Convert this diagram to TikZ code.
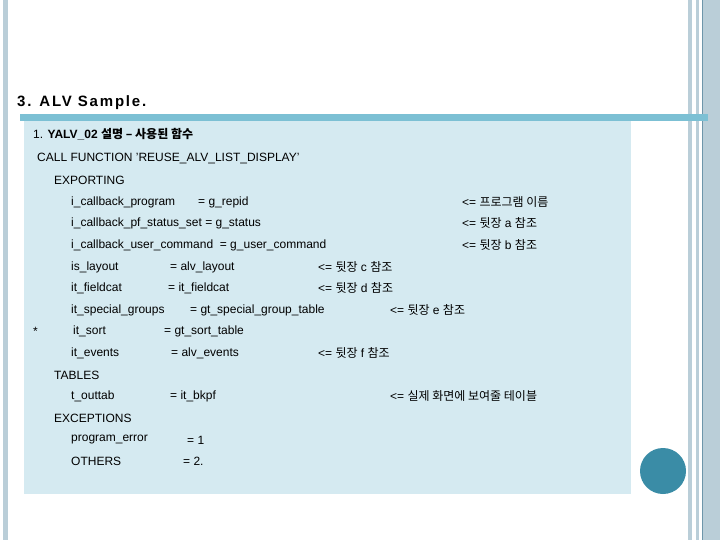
\documentclass[tikz,border=0pt]{standalone}
\usepackage{fontspec}
\setmainfont{Liberation Sans}
\newfontfamily\kr{Noto Sans CJK KR}
\definecolor{panel}{RGB}{213,234,241}
\definecolor{hbar}{RGB}{124,192,212}
\definecolor{circ}{RGB}{58,140,166}
\definecolor{side}{RGB}{186,206,216}
\definecolor{sidedark}{RGB}{110,150,170}
\begin{document}
\begin{tikzpicture}[x=1pt,y=-1pt,
  t/.style={anchor=west,inner sep=0pt,font=\fontsize{12}{14}\selectfont}]
\useasboundingbox[fill=white] (0,0) rectangle (720,540);
\fill[side] (3,0) rectangle (8,540);
\fill[side] (688,0) rectangle (692,540);
\fill[side] (696,0) rectangle (699,540);
\fill[side] (703,0) rectangle (720,540);
\draw[sidedark,line width=0.8pt] (702,0) -- (702,540);
\fill[hbar] (20,114) rectangle (708,121);
\fill[panel] (24,121) rectangle (631,494);
\fill[circ] (663,471) circle (23);
\node[t,font=\fontsize{15}{17}\selectfont\bfseries\addfontfeature{LetterSpace=12}] (title) at (17,103) {3. ALV Sample.};
\node[t] (h) at (33,134) {1. \textbf{YALV\_02 {\kr 설명 – 사용된 함수}}};
\node[t] (l1) at (37,159) {CALL FUNCTION 'REUSE\_ALV\_LIST\_DISPLAY'};
\node[t] (l2) at (54,180) {EXPORTING};
\node[t] (a1) at (71,202) {i\_callback\_program};
\node[t] (b1) at (198,202) {= g\_repid};
\node[t] (c1) at (462,202) {<= {\kr 프로그램 이름}};
\node[t] (a2) at (71,223) {i\_callback\_pf\_status\_set = g\_status};
\node[t] (c2) at (462,223) {<= {\kr 뒷장} a {\kr 참조}};
\node[t] (a3) at (71,245) {i\_callback\_user\_command\ \ = g\_user\_command};
\node[t] (c3) at (462,245) {<= {\kr 뒷장} b {\kr 참조}};
\node[t] (a4) at (71,267) {is\_layout};
\node[t] (b4) at (170,267) {= alv\_layout};
\node[t] (c4) at (318,267) {<= {\kr 뒷장} c {\kr 참조}};
\node[t] (a5) at (71,288) {it\_fieldcat};
\node[t] (b5) at (168,288) {= it\_fieldcat};
\node[t] (c5) at (318,288) {<= {\kr 뒷장} d {\kr 참조}};
\node[t] (a6) at (71,310) {it\_special\_groups};
\node[t] (b6) at (190,310) {= gt\_special\_group\_table};
\node[t] (c6) at (390,310) {<= {\kr 뒷장} e {\kr 참조}};
\node[t] (s7) at (33,331) {*};
\node[t] (a7) at (73,331) {it\_sort};
\node[t] (b7) at (164,331) {= gt\_sort\_table};
\node[t] (a8) at (71,353) {it\_events};
\node[t] (b8) at (171,353) {= alv\_events};
\node[t] (c8) at (318,353) {<= {\kr 뒷장} f {\kr 참조}};
\node[t] (l9) at (54,375) {TABLES};
\node[t] (a10) at (71,396) {t\_outtab};
\node[t] (b10) at (170,396) {= it\_bkpf};
\node[t] (c10) at (390,396) {<= {\kr 실제 화면에 보여줄 테이블}};
\node[t] (l11) at (54,418) {EXCEPTIONS};
\node[t] (a12) at (71,440) {program\_error};
\node[t] (b12) at (187,440) {= 1};
\node[t] (a13) at (71,461) {OTHERS};
\node[t] (b13) at (183,461) {= 2.};
\end{tikzpicture}
\end{document}
